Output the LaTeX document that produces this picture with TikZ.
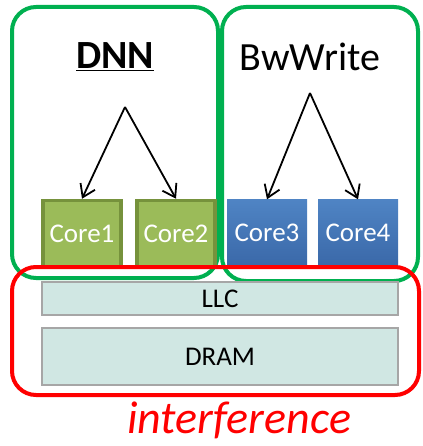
\documentclass[tikz,border=0pt]{standalone}
\usepackage{fontspec}
\setmainfont{Carlito}
\usetikzlibrary{arrows.meta}
\definecolor{grpgreen}{HTML}{00B050}
\definecolor{corefill}{HTML}{9BBB59}
\definecolor{coreline}{HTML}{76923C}
\definecolor{blueA}{HTML}{4F84C4}
\definecolor{blueB}{HTML}{3A68A8}
\definecolor{memfill}{HTML}{D0E7E3}
\definecolor{memline}{HTML}{A6A6A6}
\tikzset{
  group/.style={draw=grpgreen, line width=4pt, rounded corners=24pt},
  shared/.style={draw=red, line width=4pt, rounded corners=24pt},
  greencore/.style={draw=coreline, line width=3.5pt, fill=corefill, text=white,
    minimum width=78pt, minimum height=67pt, inner sep=0pt, font=\fontsize{27}{32}\selectfont},
  bluecore/.style={top color=blueA, bottom color=blueB, draw=none, text=white,
    minimum width=80pt, minimum height=67pt, inner sep=0pt, font=\fontsize{27}{32}\selectfont},
  mem/.style={draw=memline, line width=1.2pt, fill=memfill, minimum width=356pt,
    inner sep=0pt, font=\fontsize{27}{32}\selectfont},
  thread/.style={-{Straight Barb[length=12pt,width=16pt]}, line width=1.8pt}
}
\begin{document}
\begin{tikzpicture}[x=1pt,y=-1pt]
  \useasboundingbox (0,0) rectangle (422,446);

  \draw[group] (12,7) rectangle (218,278);
  \draw[group] (222,7) rectangle (418,281);

  \node[font=\fontsize{40}{48}\selectfont\bfseries] (dnn) at (115,57) {\underline{DNN}};
  \node[font=\fontsize{40}{48}\selectfont] (bw) at (310,57) {BwWrite};

  \node[greencore] (c1) at (82,234) {Core1};
  \node[greencore] (c2) at (176,234) {Core2};
  \node[bluecore] (c3) at (267,233) {Core3};
  \node[bluecore] (c4) at (358,233) {Core4};

  \coordinate (dnntop) at (125,107);
  \coordinate (bwtop) at (310,93);
  \draw[thread] (dnntop) -- (c1.north);
  \draw[thread] (dnntop) -- (c2.north);
  \draw[thread] (bwtop) -- (c3.north);
  \draw[thread] (bwtop) -- (c4.north);

  \node[mem, minimum height=33pt] (llc) at (220,298.5) {LLC};
  \node[mem, minimum height=57pt] (dram) at (220,356.5) {DRAM};

  \draw[shared] (12,267) rectangle (419,395);
  \node[text=red, inner sep=0pt, anchor=base, font=\fontsize{46}{55}\selectfont\itshape] (intf) at (239,433) {interference};
\end{tikzpicture}
\end{document}
